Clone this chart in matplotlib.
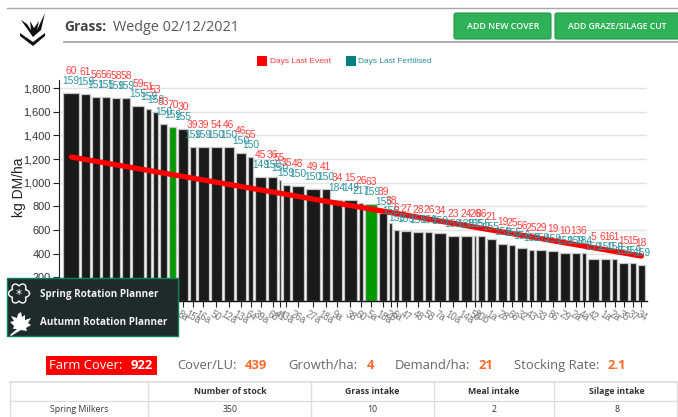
import numpy as np
import matplotlib
matplotlib.use("Agg")
import matplotlib.pyplot as plt
from matplotlib.patches import Rectangle, FancyBboxPatch, Polygon

# Dados
areas = [15.7, 8.7, 8.3, 7.7, 8.3, 7.6, 12.4, 5, 5, 7, 7, 9.6, 5.7, 11, 11, 10, 10.4, 5, 11.3, 8.4,
         2, 6.7, 12.7, 13.3, 8.3, 10, 12.7, 4.7, 12, 8, 3, 4.5, 10.3, 10, 7, 11.5, 10.7, 11, 2.7, 6.3,
         9.3, 9.4, 6, 9.7, 4.6, 10.4, 9.6, 10, 8, 4, 11, 9.3, 5, 8.7, 6, 7]
covers = [1755, 1747, 1724, 1724, 1718, 1718, 1648, 1622, 1597, 1498, 1473, 1451, 1298, 1298, 1298, 1298, 1248, 1220,
          1050, 1050, 1022, 980, 972, 949, 949, 850, 850, 825, 820, 740, 660, 600, 590, 585, 580, 577,
          552, 552, 552, 552, 526, 479, 470, 450, 434, 428, 422, 403, 403, 403, 352, 352, 352, 324, 324, 304]
days_event = [60, 61, 56, 56, 58, 58, 59, 51, 53, 83, 70, 30, 39, 39, 54, 46, 46, 55, 45, 36,
              55, 35, 48, 49, 41, 34, 15, 26, 63, 39, 38, 6, 27, 28, 26, 34, 23, 24, 26, 86,
              21, 19, 25, 56, 25, 29, 19, 10, 13, 6, 5, 61, 61, 15, 15, 18]
days_fert = [159, 159, 151, 155, 159, 159, 155, 159, 158, 150, 159, 155, 159, 159, 150, 150, 150, 150, 149, 150,
             150, 159, 150, 150, 150, 184, 149, 217, 159, 155, 156, 159, 159, 155, 159, 150, 159, 188, 155, 155,
             155, 159, 155, 156, 159, 159, 159, 159, 159, 184, 159, 150, 159, 156, 159, 159]
paddocks = [""] * 11 + ["8a", "15a", "16a", "50", "12a", "13a", "64", "39a", "68", "41", "43a",
                        "26a", "27a", "18a", "9a", "38", "60", "5a", "18a", "26", "6a",
                        "47", "48", "58", "7a", "10a", "14a", "55", "20b", "1a", "28",
                        "66", "32", "43", "33", "86", "29", "2a", "4a", "42", "1a",
                        "2a", "35", "37", "34"]
green_bars = [10, 28]
target_line = [1217, 380]
y_ticks = [200, 400, 600, 800, 1000, 1200, 1400, 1600, 1800]

table_header = ["", "Number of stock", "Grass intake", "Meal intake", "Silage intake"]
table_row = ["Spring Milkers", "350", "10", "2", "8"]

W, H = 678, 417
CHART = "Liberation Sans"
UI = "Open Sans"

fig = plt.figure(figsize=(W / 100, H / 100), dpi=100, facecolor="white")

# Grafico principal
ax = fig.add_axes([59.3 / W, 1 - 301 / H, 588 / W, 221 / H])
gap = 2.02
lefts = 4 + np.concatenate([[0], np.cumsum(np.array(areas[:-1]) + gap)])
centers = lefts + np.array(areas) / 2
cores = ["#009900" if i in green_bars else "#1a1a1a" for i in range(len(areas))]

ax.bar(lefts, covers, width=areas, align="edge", color=cores, edgecolor="#c4c4c4", linewidth=0.9, zorder=2)
ax.plot([centers[0], centers[-1]], target_line, color="#ff0000", linewidth=3.8, solid_capstyle="round", zorder=3)

for c, v, e, f in zip(centers, covers, days_event, days_fert):
    ax.annotate(str(f), (c, v), xytext=(0, 8.6), textcoords="offset points", ha="center", va="center",
                fontsize=7.4, family=CHART, color="#2f939f", zorder=4)
    ax.annotate(str(e), (c, v), xytext=(0, 15.8), textcoords="offset points", ha="center", va="center",
                fontsize=7.4, family=CHART, color="#ff4040", zorder=5)

ax.set_xlim(0, 588)
ax.set_ylim(0, 1868)
ax.set_yticks(y_ticks)
ax.set_yticklabels([f"{t:,}" for t in y_ticks], fontsize=7.9, family=CHART, color="#333333")
ax.set_xticks(centers)
ax.set_xticklabels(paddocks, fontsize=6.9, family=CHART, color="#777777", rotation=-30, ha="center")
ax.tick_params(axis="y", length=4, width=0.8, color="#222222", pad=2)
ax.tick_params(axis="x", length=4, width=0.8, color="#222222", pad=2)
ax.set_axisbelow(True)
ax.grid(axis="y", color="#e4e4e4", linewidth=1)
for lado in ["top", "right"]:
    ax.spines[lado].set_visible(False)
ax.spines["left"].set_color("#222222")
ax.spines["bottom"].set_color("#111111")
ax.spines["bottom"].set_linewidth(1)

# Camada de cima, em pixels da imagem
ov = fig.add_axes([0, 0, 1, 1], zorder=5)
ov.set_xlim(0, W)
ov.set_ylim(H, 0)
ov.axis("off")

ov.text(19, 187, "kg DM/ha", rotation=90, fontsize=10, family=CHART, color="#222222", ha="center", va="center")

# Cabecalho
ov.plot([7, W], [8, 8], color="#a8a8a8", linewidth=1)
ov.plot([64, W], [41.7, 41.7], color="#a8a8a8", linewidth=1.3)
ov.text(64.5, 27, "Grass:", fontsize=10, family=UI, fontweight="bold", color="#444444", va="center")
ov.text(113, 27, "Wedge 02/12/2021", fontsize=10.4, family=UI, color="#555555", va="center")

for x0, x1 in [(454, 551), (555, 682)]:
    ov.add_patch(FancyBboxPatch((x0, 13), x1 - x0, 26, boxstyle="round,pad=0,rounding_size=2",
                                facecolor="#2fb157", edgecolor="#27964a", linewidth=0.8))
ov.text(503, 26, "ADD NEW COVER", fontsize=6.4, family=UI, color="white", ha="center", va="center", fontweight="semibold")
ov.text(617.5, 26, "ADD GRAZE/SILAGE CUT", fontsize=6.2, family=UI, color="white", ha="center", va="center", fontweight="semibold")

# Logo
for pts in [[(33, 37), (21, 20), (27, 24), (31, 30), (30, 21), (34, 28), (39, 21), (37, 30), (45, 13), (41, 30)],
            [(20, 33), (33, 42), (45, 33), (45, 36), (33, 46), (20, 36)]]:
    ov.add_patch(Polygon(pts, closed=True, facecolor="#111111", edgecolor="none"))

# Legenda
ov.add_patch(Rectangle((257, 56), 10, 10, facecolor="#ff0000", edgecolor="none"))
ov.text(270, 61, "Days Last Event", fontsize=6, family=CHART, color="#ff3b3b", va="center")
ov.add_patch(Rectangle((346, 56), 10, 10, facecolor="#008080", edgecolor="none"))
ov.text(358.5, 61, "Days Last Fertilised", fontsize=6, family=CHART, color="#2a8d9a", va="center")

# Painel dos planners
ov.add_patch(Rectangle((7, 278), 171, 58, facecolor="#1f2b29", edgecolor="#0b7f5e", linewidth=1, zorder=6))
ov.text(40, 294.5, "Spring Rotation Planner", fontsize=7.1, family=UI, fontweight="bold", color="#f2f2f2", va="center", zorder=7)
ov.text(40, 322.5, "Autumn Rotation Planner", fontsize=7.1, family=UI, fontweight="bold", color="#f2f2f2", va="center", zorder=7)

ang = np.linspace(0, 2 * np.pi, 300)
raio = 7.5 + 3 * np.abs(np.cos(3 * ang))
ov.plot(19 + raio * np.cos(ang), 293.5 + raio * np.sin(ang), color="white", linewidth=1, zorder=7)
ov.text(19, 294.5, "*", fontsize=9, color="white", ha="center", va="center", zorder=7)
folha = [(21, 312), (22, 317), (25, 315), (25, 320), (31, 318), (28, 323), (31, 325), (26, 328), (27, 331), (21, 330),
         (11, 336), (10, 335), (17, 329), (13, 329), (14, 326), (10, 322), (14, 321), (11, 316), (17, 318), (18, 314)]
ov.add_patch(Polygon(folha, closed=True, facecolor="white", edgecolor="none", zorder=7))

# Linha de indicadores
ov.add_patch(Rectangle((45.5, 356), 111.5, 19, facecolor="#ff0000", edgecolor="none"))
stat = dict(fontsize=9.4, family=UI, va="center")
ov.text(49, 365.5, "Farm Cover:", color="white", **stat)
ov.text(131, 365.5, "922", color="white", fontweight="bold", **stat)
cinza, laranja = "#666666", "#ff6a2b"
for x, txt, cor, peso in [(177, "Cover/LU:", cinza, "normal"), (245, "439", laranja, "bold"),
                          (288, "Growth/ha:", cinza, "normal"), (367, "4", laranja, "bold"),
                          (395, "Demand/ha:", cinza, "normal"), (479, "21", laranja, "bold"),
                          (514, "Stocking Rate:", cinza, "normal"), (608, "2.1", laranja, "bold")]:
    ov.text(x, 365.5, txt, color=cor, fontweight=peso, **stat)

# Tabela
linhas_x = [10, 148, 311, 434, 554, 677]
centros_x = [79, 230, 372.5, 494, 617]
for x in linhas_x:
    ov.plot([x, x], [382, H], color="#dddddd", linewidth=1)
for y in [382, 400.7]:
    ov.plot([10, 677], [y, y], color="#dddddd", linewidth=1.2 if y == 382 else 0.9)
for x, a, b in zip(centros_x, table_header, table_row):
    ov.text(x, 391, a, fontsize=6.3, family=UI, fontweight="bold", color="#333333", ha="center", va="center")
    ov.text(x, 409.5, b, fontsize=6.3, family=UI, color="#333333", ha="center", va="center")

plt.savefig("out.png", dpi=100)
